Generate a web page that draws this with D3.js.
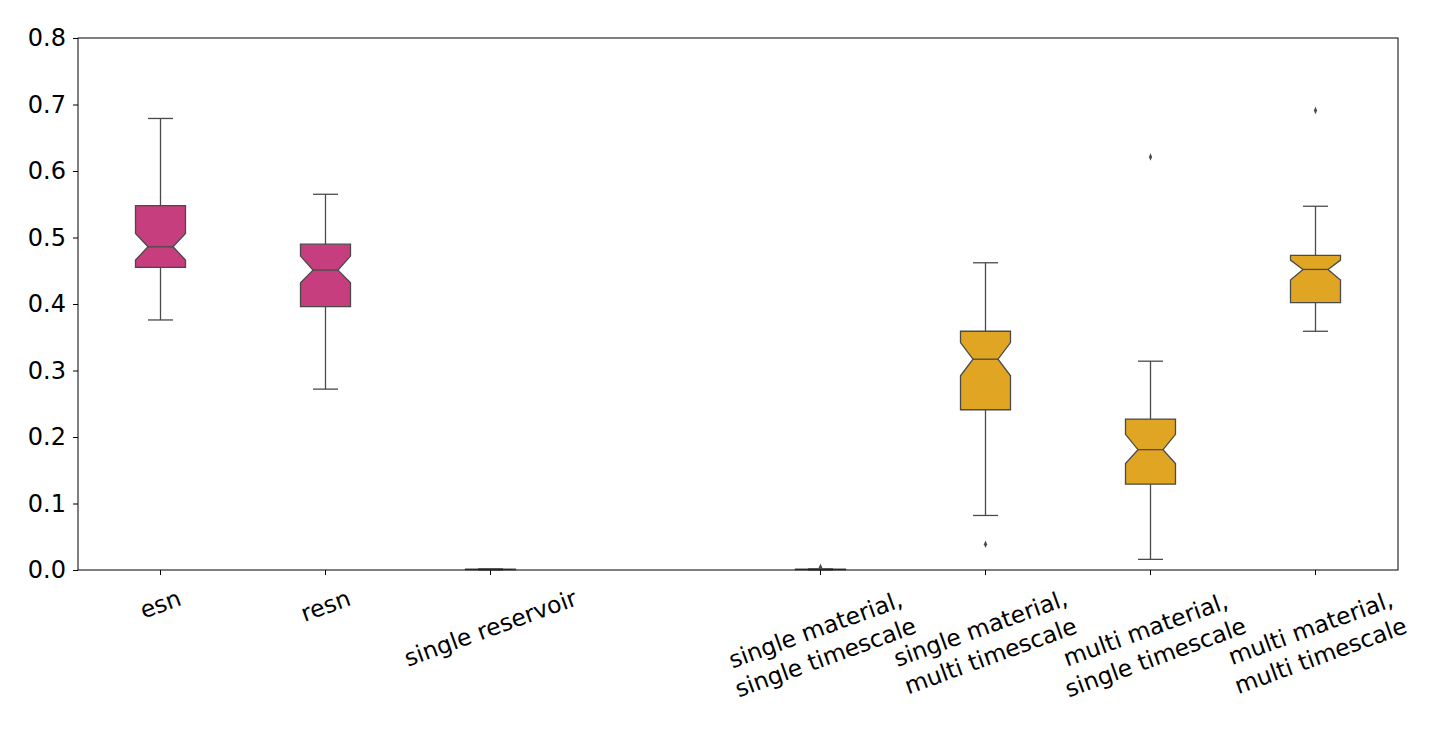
<!DOCTYPE html>
<html><head><meta charset="utf-8">
<script src="https://cdn.jsdelivr.net/npm/d3@7"></script>
<style>body{margin:0;background:#fff;} text{font-family:"DejaVu Sans",sans-serif;}</style>
</head><body><svg id="c" width="1453" height="740"></svg>
<script>
// ---- data ----
const categories = ["esn", "resn", "single reservoir", "", "single material,\nsingle timescale", "single material,\nmulti timescale", "multi material,\nsingle timescale", "multi material,\nmulti timescale"];
const groups = ["a", "a", "a", null, "b", "b", "b", "b"];
const whiskerLow  = [0.376, 0.272, 0.0003, null, 0.0003, 0.082, 0.016, 0.359];
const q1          = [0.455, 0.396, 0.0006, null, 0.0006, 0.241, 0.129, 0.402];
const notchLow    = [0.466, 0.432, 0.0008, null, 0.0008, 0.292, 0.160, 0.436];
const median      = [0.486, 0.451, 0.0010, null, 0.0010, 0.317, 0.181, 0.452];
const notchHigh   = [0.506, 0.472, 0.0012, null, 0.0012, 0.342, 0.204, 0.466];
const q3          = [0.548, 0.490, 0.0014, null, 0.0014, 0.359, 0.227, 0.473];
const whiskerHigh = [0.679, 0.565, 0.0017, null, 0.0017, 0.462, 0.314, 0.547];
const outliers    = [[], [], [], [], [0.004], [0.0386], [0.621], [0.691]];
const yTicks = [0.0, 0.1, 0.2, 0.3, 0.4, 0.5, 0.6, 0.7, 0.8];

const colors = {a: "#C63E7E", b: "#DFA523"};
const edge = "#4a4a4a";

const svg = d3.select("#c");
const L = 78, R = 1398, T = 38, B = 570;
const x = d3.scaleBand().domain(d3.range(categories.length)).range([L, R]).paddingInner(0).paddingOuter(0);
const y = d3.scaleLinear().domain([0, 0.8]).range([B, T]);
const bw = 50;

// axes
const yAxis = d3.axisLeft(y).tickValues(yTicks).tickFormat(d3.format(".1f")).tickSize(5).tickPadding(7);
const gy = svg.append("g").attr("transform", `translate(${L},0)`).call(yAxis);
gy.select(".domain").remove();
gy.selectAll("line").attr("stroke", "#000").attr("stroke-width", 1);
gy.selectAll("text").attr("font-size", 24).attr("fill", "#000").attr("font-family", "DejaVu Sans");

const idx = d3.range(categories.length).filter(i => categories[i] !== "");
const xAxis = d3.axisBottom(x).tickValues(idx).tickSize(5).tickFormat("");
const gx = svg.append("g").attr("transform", `translate(0,${B})`).call(xAxis);
gx.select(".domain").remove();
gx.selectAll("line").attr("stroke", "#000");

// boxes
const g = svg.append("g");
d3.range(categories.length).forEach(i => {
  if (groups[i] === null) return;
  const cx = x(i) + x.bandwidth() / 2;
  const xl = cx - bw / 2, xr = cx + bw / 2;
  const nl = cx - bw / 4, nr = cx + bw / 4;
  // whiskers
  g.append("line").attr("x1", cx).attr("x2", cx).attr("y1", y(q3[i])).attr("y2", y(whiskerHigh[i])).attr("stroke", edge).attr("stroke-width", 1.3);
  g.append("line").attr("x1", cx).attr("x2", cx).attr("y1", y(q1[i])).attr("y2", y(whiskerLow[i])).attr("stroke", edge).attr("stroke-width", 1.3);
  [whiskerHigh[i], whiskerLow[i]].forEach(v => {
    g.append("line").attr("x1", cx - bw / 4).attr("x2", cx + bw / 4).attr("y1", y(v)).attr("y2", y(v)).attr("stroke", edge).attr("stroke-width", 1.3);
  });
  // notched box
  const pts = [
    [xl, y(q1[i])], [xl, y(notchLow[i])], [nl, y(median[i])], [xl, y(notchHigh[i])], [xl, y(q3[i])],
    [xr, y(q3[i])], [xr, y(notchHigh[i])], [nr, y(median[i])], [xr, y(notchLow[i])], [xr, y(q1[i])]
  ];
  g.append("path").attr("d", d3.line()(pts) + "Z").attr("fill", colors[groups[i]]).attr("stroke", edge).attr("stroke-width", 1.3).attr("stroke-linejoin", "miter");
  g.append("line").attr("x1", nl).attr("x2", nr).attr("y1", y(median[i])).attr("y2", y(median[i])).attr("stroke", edge).attr("stroke-width", 1.3);
  // outliers
  outliers[i].forEach(v => {
    g.append("path").attr("d", d3.symbol(d3.symbolDiamond, 16)()).attr("transform", `translate(${cx},${y(v)}) scale(0.75,1)`).attr("fill", edge);
  });
});

// frame
svg.append("rect").attr("x", L).attr("y", T).attr("width", R - L).attr("height", B - T).attr("fill", "none").attr("stroke", "#000").attr("stroke-width", 1);

// rotated x labels (matplotlib-like: rotated bbox centered on tick)
const ang = 20 * Math.PI / 180;
idx.forEach(i => {
  const cx = x(i) + x.bandwidth() / 2;
  const lines = categories[i].split("\n");
  const lg = svg.append("g");
  const t = lg.append("text").attr("font-size", 23.5).attr("text-anchor", "middle").attr("fill", "#000");
  const lh = 29.5;
  lines.forEach((s, k) => {
    t.append("tspan").attr("x", 0).attr("y", (k - (lines.length - 1) / 2) * lh).attr("dy", "0.35em").text(s);
  });
  const bb = t.node().getBBox();
  const w = bb.width, h = lines.length * lh;
  const bh = w * Math.sin(ang) + h * Math.cos(ang);
  const top = B + 13;
  lg.attr("transform", `translate(${cx},${top + bh / 2}) rotate(-20)`);
});
</script></body></html>
